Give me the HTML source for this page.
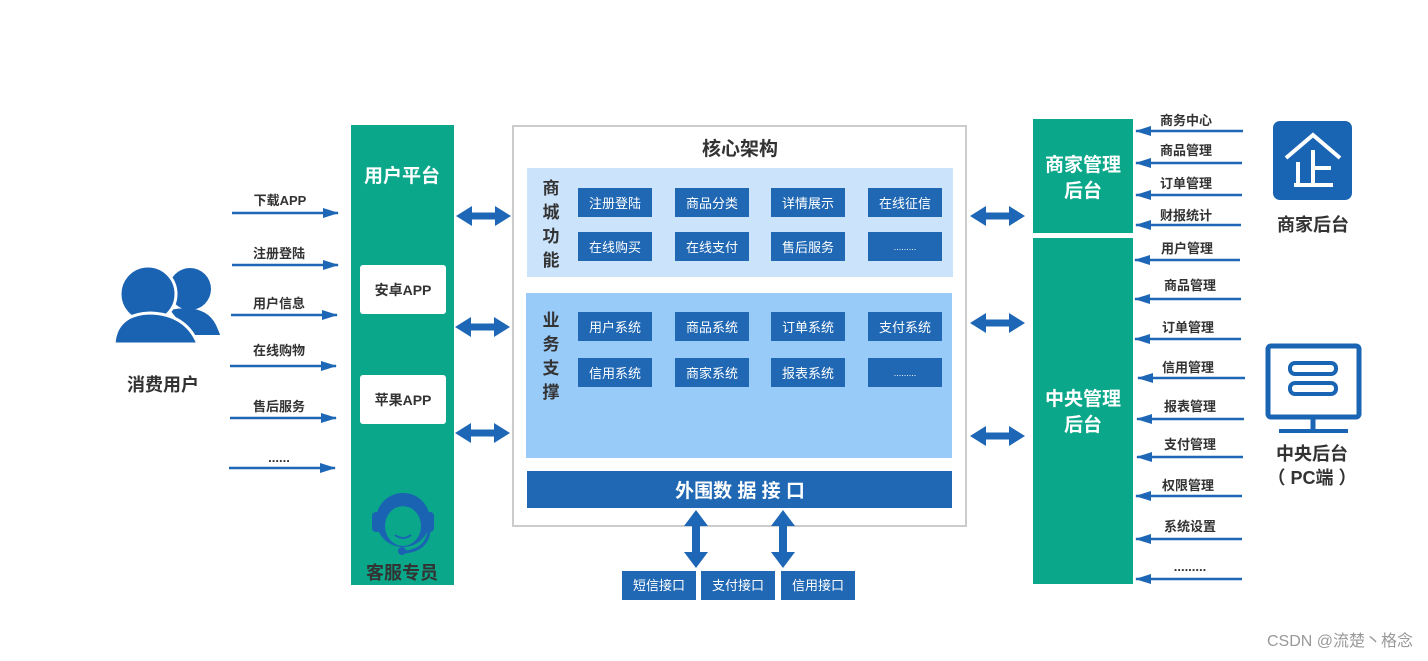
<!DOCTYPE html>
<html><head><meta charset="utf-8"><style>
html,body{margin:0;padding:0;background:#fff;}
svg{display:block;}
text{font-family:"Liberation Sans","Noto Sans CJK SC",sans-serif;}
</style></head><body>
<svg width="1428" height="661" viewBox="0 0 1428 661" xmlns="http://www.w3.org/2000/svg">
<defs>
<marker id="ah" markerWidth="16" markerHeight="10" refX="15" refY="5" orient="auto" markerUnits="userSpaceOnUse">
<path d="M0,0 L16,5 L0,10 Z" fill="#1e67b6"/></marker>
<g id="dh"><path d="M0,0 L16,-10 L16,-3.5 L39,-3.5 L39,-10 L55,0 L39,10 L39,3.5 L16,3.5 L16,10 Z" fill="#1e67b6"/></g>
<g id="dv"><path d="M0,0 L-12,16 L-4,16 L-4,42 L-12,42 L0,58 L12,42 L4,42 L4,16 L12,16 Z" fill="#1e67b6"/></g>
</defs>

<!-- user icon -->
<g fill="#1a63b3">
<circle cx="190" cy="289" r="21"/>
<path d="M170,310 Q205,303 216,325 Q220,334 220,335 L190,335 Z"/>
<circle cx="148" cy="294" r="28" stroke="#fff" stroke-width="3"/>
<path d="M114,344 Q116,314 150,313 Q186,314 198,344 Z" stroke="#fff" stroke-width="3"/>
</g>
<text x="163" y="391" font-size="18" font-weight="bold" fill="#333" text-anchor="middle">消费用户</text>

<!-- left arrows -->
<g stroke="#1e67b6" stroke-width="2.5" marker-end="url(#ah)">
<line x1="232" y1="213" x2="338" y2="213"/>
<line x1="232" y1="265" x2="338" y2="265"/>
<line x1="231" y1="315" x2="337" y2="315"/>
<line x1="230" y1="366" x2="336" y2="366"/>
<line x1="230" y1="418" x2="336" y2="418"/>
<line x1="229" y1="468" x2="335" y2="468"/>
</g>
<g font-size="13" font-weight="bold" fill="#333" text-anchor="middle">
<text x="280" y="205">下载APP</text>
<text x="279" y="258">注册登陆</text>
<text x="279" y="308">用户信息</text>
<text x="279" y="355">在线购物</text>
<text x="279" y="411">售后服务</text>
<text x="279" y="462">......</text>
</g>

<!-- left green column -->
<rect x="351" y="125" width="103" height="460" fill="#0aa78a"/>
<text x="402" y="182" font-size="19" font-weight="bold" fill="#fff" text-anchor="middle">用户平台</text>
<rect x="360" y="265" width="86" height="49" rx="3" fill="#fff"/>
<rect x="360" y="375" width="86" height="49" rx="3" fill="#fff"/>
<text x="403" y="295" font-size="14" font-weight="bold" fill="#333" text-anchor="middle">安卓APP</text>
<text x="403" y="405" font-size="14" font-weight="bold" fill="#333" text-anchor="middle">苹果APP</text>
<!-- headset -->
<g>
<circle cx="403" cy="520" r="27" fill="#1a63b3"/>
<ellipse cx="403" cy="526" rx="18" ry="20" fill="#0aa78a"/>
<path d="M380,520 Q385,495 403,496 Q421,495 426,520 Q418,508 403,506 Q388,508 380,520 Z" fill="#1a63b3"/>
<rect x="372" y="512" width="9" height="20" rx="4" fill="#1a63b3"/>
<rect x="425" y="512" width="9" height="20" rx="4" fill="#1a63b3"/>
<path d="M395,535 Q403,541 411,535" stroke="#1a63b3" stroke-width="2" fill="none"/>
<path d="M429,532 Q426,550 405,552" stroke="#1a63b3" stroke-width="3" fill="none"/>
<circle cx="402" cy="551" r="4" fill="#1a63b3"/>
</g>
<text x="402" y="579" font-size="18" font-weight="bold" fill="#333" text-anchor="middle">客服专员</text>

<!-- double arrows left -->
<use href="#dh" x="456" y="216"/>
<use href="#dh" x="455" y="327"/>
<use href="#dh" x="455" y="433"/>

<!-- core box -->
<rect x="513" y="126" width="453" height="400" fill="#fff" stroke="#ccc" stroke-width="2"/>
<text x="740" y="155" font-size="19" font-weight="bold" fill="#333" text-anchor="middle">核心架构</text>
<rect x="527" y="168" width="426" height="109" fill="#cce4fb"/>
<rect x="526" y="293" width="426" height="165" fill="#99cbf9"/>
<g font-size="17" font-weight="bold" fill="#333" text-anchor="middle">
<text x="551" y="194">商</text><text x="551" y="218">城</text><text x="551" y="242">功</text><text x="551" y="266">能</text>
<text x="551" y="326">业</text><text x="551" y="350">务</text><text x="551" y="374">支</text><text x="551" y="398">撑</text>
</g>
<g fill="#2068b4">
<rect x="578" y="188" width="74" height="29"/><rect x="675" y="188" width="74" height="29"/><rect x="771" y="188" width="74" height="29"/><rect x="868" y="188" width="74" height="29"/>
<rect x="578" y="232" width="74" height="29"/><rect x="675" y="232" width="74" height="29"/><rect x="771" y="232" width="74" height="29"/><rect x="868" y="232" width="74" height="29"/>
<rect x="578" y="312" width="74" height="29"/><rect x="675" y="312" width="74" height="29"/><rect x="771" y="312" width="74" height="29"/><rect x="868" y="312" width="74" height="29"/>
<rect x="578" y="358" width="74" height="29"/><rect x="675" y="358" width="74" height="29"/><rect x="771" y="358" width="74" height="29"/><rect x="868" y="358" width="74" height="29"/>
</g>
<g font-size="13" fill="#fff" text-anchor="middle">
<text x="615" y="208">注册登陆</text><text x="712" y="208">商品分类</text><text x="808" y="208">详情展示</text><text x="905" y="208">在线征信</text>
<text x="615" y="252">在线购买</text><text x="712" y="252">在线支付</text><text x="808" y="252">售后服务</text><text x="905" y="250" font-size="9">.........</text>
<text x="615" y="332">用户系统</text><text x="712" y="332">商品系统</text><text x="808" y="332">订单系统</text><text x="905" y="332">支付系统</text>
<text x="615" y="378">信用系统</text><text x="712" y="378">商家系统</text><text x="808" y="378">报表系统</text><text x="905" y="376" font-size="9">.........</text>
</g>
<rect x="527" y="471" width="425" height="37" fill="#2068b4"/>
<text x="740" y="497" font-size="19" font-weight="bold" fill="#fff" text-anchor="middle">外围数 据 接 口</text>

<use href="#dv" x="696" y="510"/>
<use href="#dv" x="783" y="510"/>
<g fill="#2068b4">
<rect x="622" y="571" width="74" height="29"/><rect x="701" y="571" width="74" height="29"/><rect x="781" y="571" width="74" height="29"/>
</g>
<g font-size="13" fill="#fff" text-anchor="middle">
<text x="659" y="590">短信接口</text><text x="738" y="590">支付接口</text><text x="818" y="590">信用接口</text>
</g>

<!-- double arrows right -->
<use href="#dh" x="970" y="216"/>
<use href="#dh" x="970" y="323"/>
<use href="#dh" x="970" y="436"/>

<!-- right green -->
<rect x="1033" y="119" width="100" height="114" fill="#0aa78a"/>
<rect x="1033" y="238" width="100" height="346" fill="#0aa78a"/>
<g font-size="19" font-weight="bold" fill="#fff" text-anchor="middle">
<text x="1083" y="171">商家管理</text><text x="1083" y="197">后台</text>
<text x="1083" y="405">中央管理</text><text x="1083" y="431">后台</text>
</g>

<!-- right arrows -->
<g stroke="#1e67b6" stroke-width="2.5" marker-end="url(#ah)">
<line x1="1243" y1="131" x2="1136" y2="131"/>
<line x1="1242" y1="163" x2="1136" y2="163"/>
<line x1="1242" y1="195" x2="1136" y2="195"/>
<line x1="1241" y1="225" x2="1136" y2="225"/>
<line x1="1240" y1="260" x2="1135" y2="260"/>
<line x1="1241" y1="299" x2="1135" y2="299"/>
<line x1="1241" y1="339" x2="1135" y2="339"/>
<line x1="1245" y1="378" x2="1138" y2="378"/>
<line x1="1244" y1="419" x2="1137" y2="419"/>
<line x1="1243" y1="457" x2="1137" y2="457"/>
<line x1="1242" y1="496" x2="1136" y2="496"/>
<line x1="1242" y1="539" x2="1136" y2="539"/>
<line x1="1242" y1="579" x2="1136" y2="579"/>
</g>
<g font-size="13" font-weight="bold" fill="#333" text-anchor="middle">
<text x="1186" y="125">商务中心</text>
<text x="1186" y="155">商品管理</text>
<text x="1186" y="188">订单管理</text>
<text x="1186" y="220">财报统计</text>
<text x="1187" y="253">用户管理</text>
<text x="1190" y="290">商品管理</text>
<text x="1188" y="332">订单管理</text>
<text x="1188" y="372">信用管理</text>
<text x="1190" y="411">报表管理</text>
<text x="1190" y="449">支付管理</text>
<text x="1188" y="490">权限管理</text>
<text x="1190" y="531">系统设置</text>
<text x="1190" y="571">.........</text>
</g>

<!-- 企 logo -->
<rect x="1273" y="121" width="79" height="79" rx="7" fill="#1a64b4"/>
<g stroke="#fff" stroke-width="4" fill="none">
<path d="M1286,158 L1313,135 L1340,158"/>
<line x1="1313" y1="150" x2="1313" y2="185"/>
<line x1="1294" y1="185" x2="1333" y2="185"/>
<line x1="1298" y1="162" x2="1298" y2="185"/>
<line x1="1313" y1="168" x2="1331" y2="168"/>
</g>
<text x="1313" y="231" font-size="18" font-weight="bold" fill="#333" text-anchor="middle">商家后台</text>

<!-- monitor -->
<g stroke="#1a64b4" fill="none">
<rect x="1268" y="346" width="91" height="71" rx="3" stroke-width="5"/>
<rect x="1290" y="363" width="46" height="11" rx="5" stroke-width="4"/>
<rect x="1290" y="383" width="46" height="11" rx="5" stroke-width="4"/>
<line x1="1313" y1="418" x2="1313" y2="430" stroke-width="5"/>
<line x1="1279" y1="431" x2="1348" y2="431" stroke-width="4"/>
</g>
<text x="1312" y="460" font-size="18" font-weight="bold" fill="#333" text-anchor="middle">中央后台</text>
<text x="1312" y="484" font-size="18" font-weight="bold" fill="#333" text-anchor="middle">（ PC端 ）</text>

<text x="1413" y="646" font-size="16" fill="#999" text-anchor="end">CSDN @流楚丶格念</text>
</svg>
</body></html>
